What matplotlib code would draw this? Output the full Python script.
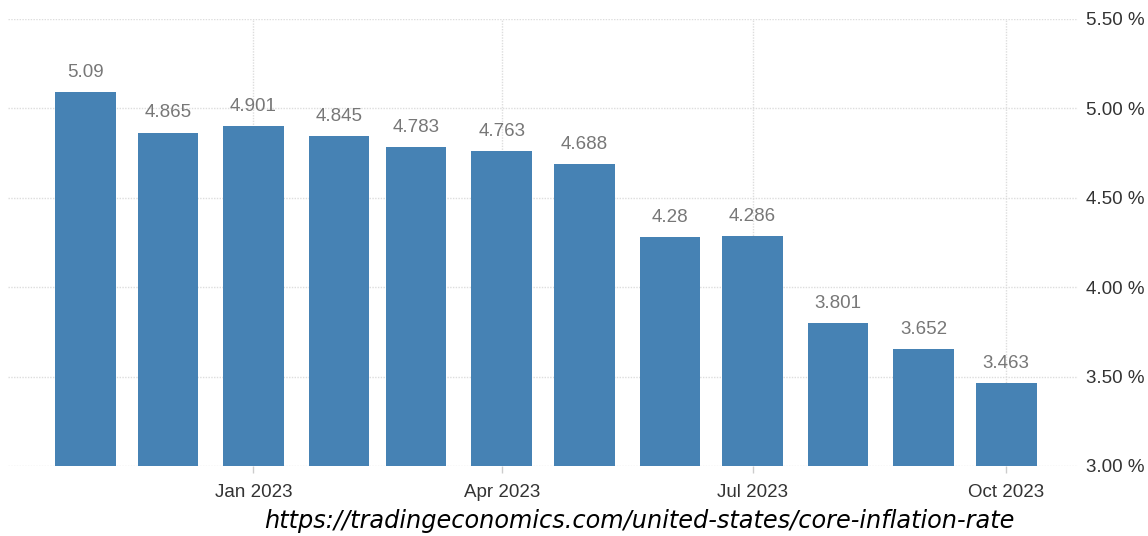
import numpy as np
import matplotlib
matplotlib.use("Agg")
import matplotlib.pyplot as plt
import matplotlib.dates as mdates
from matplotlib.ticker import FuncFormatter, FixedLocator

# US core inflation rate, monthly (%)
months = ["2022-11", "2022-12", "2023-01", "2023-02", "2023-03", "2023-04",
          "2023-05", "2023-06", "2023-07", "2023-08", "2023-09", "2023-10"]
core_rate = [5.09, 4.865, 4.901, 4.845, 4.783, 4.763,
             4.688, 4.28, 4.286, 3.801, 3.652, 3.463]
rate_labels = ["5.09", "4.865", "4.901", "4.845", "4.783", "4.763",
               "4.688", "4.28", "4.286", "3.801", "3.652", "3.463"]
tick_months = ["2023-01", "2023-04", "2023-07", "2023-10"]
y_ticks = [3.0, 3.5, 4.0, 4.5, 5.0, 5.5]
source_url = "https://tradingeconomics.com/united-states/core-inflation-rate"

plt.rcParams["font.family"] = ["Liberation Sans", "DejaVu Sans"]

dates = np.array(months, dtype="datetime64[D]")
ticks = np.array(tick_months, dtype="datetime64[D]")

fig = plt.figure(figsize=(11.48, 5.36), dpi=100)
ax = fig.add_axes([0.007, 0.1306, 0.932, 0.834])

bars = ax.bar(dates, core_rate, width=22, color="#4682b4", zorder=3)
for b, txt in zip(bars, rate_labels):
    ax.annotate(txt, (b.get_x() + b.get_width() / 2, b.get_height()),
                xytext=(0, 8), textcoords="offset points",
                ha="center", va="bottom", fontsize=13.5, color="#777777")

ax.set_ylim(3.0, 5.5)
ax.set_xlim(np.datetime64("2022-10-04"), np.datetime64("2023-10-27"))

ax.yaxis.tick_right()
ax.yaxis.set_major_locator(FixedLocator(y_ticks))
ax.yaxis.set_major_formatter(FuncFormatter(lambda v, p: f"{v:.2f} %"))
ax.tick_params(axis="y", length=0, pad=6, labelsize=13.5, labelcolor="#333333")

ax.set_xticks(mdates.date2num(ticks.astype("datetime64[s]").astype(object)))
ax.xaxis.set_major_formatter(mdates.DateFormatter("%b %Y"))
ax.tick_params(axis="x", length=5, width=1, color="#cccccc", pad=8,
               labelsize=13.5, labelcolor="#333333")

for s in ax.spines.values():
    s.set_visible(False)
ax.grid(True, linestyle=(0, (1, 1)), color="#dddddd", linewidth=1, zorder=0)
ax.set_axisbelow(True)

fig.text(0.557, 0.015, source_url, ha="center", va="baseline",
         fontsize=17.3, style="italic", family="DejaVu Sans", color="black")

fig.savefig("out.png", dpi=100)
